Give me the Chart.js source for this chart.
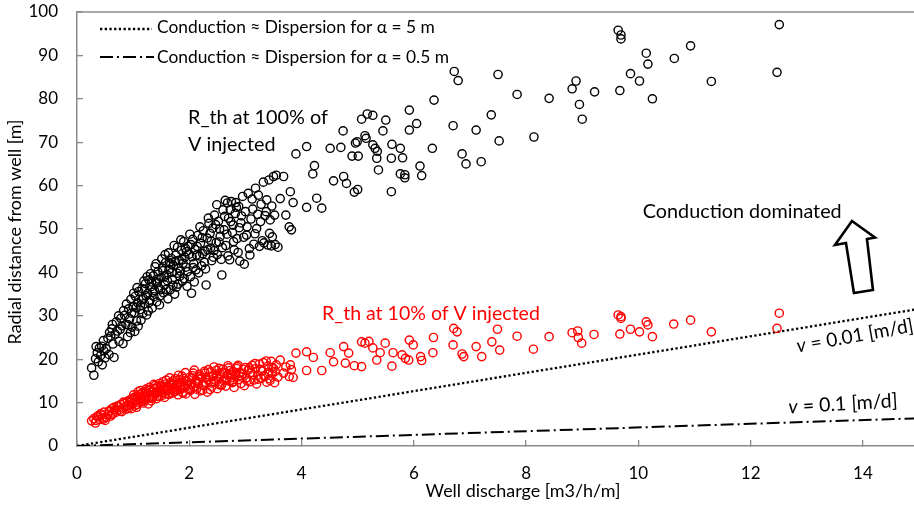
<!DOCTYPE html>
<html><head><meta charset="utf-8">
<script src="https://cdn.jsdelivr.net/npm/chart.js@4.4.1/dist/chart.umd.min.js"></script>
<style>html,body{margin:0;padding:0;background:#fff;}#wrap{width:914px;height:506px;}</style>
</head><body><div id="wrap"><canvas id="c" width="914" height="506"></canvas></div>
<script>
// ---- tick labels ----
const xTicks = [0, 2, 4, 6, 8, 10, 12, 14];
const yTicks = [0, 10, 20, 30, 40, 50, 60, 70, 80, 90, 100];

// ---- dense cluster: well discharge, R_th at 100 %, R_th at 10 % ----
const qDense = [0.26,0.30,0.33,0.36,0.38,0.40,0.42,0.45,0.48,0.50,0.55,0.58,0.60,0.62,0.64,0.66,0.70,0.72,0.75,0.78,0.80,0.82,0.85,0.87,0.90,0.92,0.94,0.96,0.98,1.00,1.02,1.04,1.06,1.08,1.10,1.12,1.14,1.16,1.18,1.20,1.22,1.24,1.26,1.28,1.30,1.32,1.34,1.36,1.38,1.40,1.42,1.44,1.46,1.48,1.50,1.52,1.54,1.56,1.58,1.60,1.62,1.64,1.66,1.68,1.70,1.72,1.74,1.76,1.78,1.80,1.82,1.84,1.86,1.88,1.90,1.92,1.94,1.96,1.98,2.00,2.02,2.04,2.06,2.08,2.10,2.12,2.15,2.18,2.20,2.22,2.25,2.28,2.30,2.32,2.35,2.38,2.40,2.42,2.45,2.48,2.50,2.52,2.55,2.58,2.60,2.62,2.65,2.68,2.70,2.72,2.75,2.78,2.80,2.82,2.85,2.88,2.90,2.92,2.95,2.98,3.00,3.02,3.05,3.08,3.10,3.12,3.15,3.18,3.20,3.22,3.25,3.28,3.30,3.32,3.35,3.38,3.40,3.42,3.44,3.46,3.48,3.50,3.52,3.55,3.58,3.62,3.68,3.72,3.78,3.80,3.82,3.85,3.90,
0.44,0.52,0.68,0.74,0.88,0.95,1.01,1.05,1.09,1.15,1.19,1.23,1.27,1.31,1.35,1.39,1.43,1.47,1.51,1.55,1.59,1.63,1.67,1.71,1.75,1.79,1.83,1.87,1.91,1.95,2.03,2.07,2.13,2.17,2.23,2.27,2.33,2.37,2.43,2.47,2.53,2.57,2.63,2.67,2.73,2.77,2.83,2.87,2.93,2.97,3.03,3.07,3.13,3.17,3.23,3.27,3.33,3.37,3.43,3.47,3.53,
0.34,0.47,0.57,0.63,0.77,0.83,0.91,0.97,1.03,1.07,1.13,1.17,1.21,1.25,1.29,1.33,1.37,1.41,1.45,1.49,1.53,1.57,1.61,1.65,1.69,1.73,1.77,1.81,1.85,1.89,1.93,1.97,2.01,2.05,2.09,2.14,2.19,2.24,2.29,2.34,2.39,2.44,2.49,2.54,2.59,2.64,2.69,2.74,2.79,2.84,2.89];
const r100Dense = [18.0,16.3,20.1,21.5,19.4,22.6,20.8,18.7,21.9,20.3,24.8,26.2,25.3,27.0,23.5,20.4,28.6,26.5,24.1,29.4,27.7,23.6,30.1,28.0,25.2,31.6,29.3,33.8,27.4,32.2,30.7,34.5,28.8,33.0,35.6,31.4,29.0,36.2,34.0,32.8,37.4,30.2,35.1,38.3,33.6,36.7,31.8,39.2,35.8,37.9,33.2,40.1,36.4,34.6,38.8,41.0,35.3,37.1,42.3,39.5,33.9,40.7,36.0,43.2,38.4,41.6,35.0,44.0,39.8,37.3,42.8,40.3,45.1,38.0,47.1,43.5,41.2,36.8,46.0,44.2,39.0,35.2,47.6,42.0,45.3,40.6,48.5,43.8,46.7,41.5,49.6,44.9,37.1,47.9,51.3,45.6,42.7,50.2,53.2,46.9,44.1,51.8,48.3,39.4,54.4,49.8,46.2,56.0,52.5,42.9,56.3,50.9,45.2,53.6,47.8,55.2,42.6,51.4,57.5,41.9,54.0,48.6,58.2,44.0,52.3,56.9,46.5,59.4,50.1,53.4,46.0,55.7,47.3,60.8,53.1,56.7,46.3,61.3,52.1,46.1,48.2,62.1,53.2,62.4,45.8,57.0,62.1,53.2,50.5,58.6,49.8,56.1,67.3,
23.0,22.4,25.8,30.0,32.7,26.1,35.2,31.9,27.6,33.7,38.0,34.6,31.1,39.7,35.4,41.3,37.6,32.5,43.1,39.0,36.1,44.5,41.9,37.0,42.6,45.8,39.1,43.0,38.6,44.8,46.4,41.1,44.0,39.9,48.0,42.3,45.2,49.0,43.5,51.0,47.0,43.0,52.9,48.8,54.5,49.2,56.1,44.6,53.0,48.1,50.5,45.5,54.6,48.9,57.8,51.7,46.8,54.0,49.0,55.3,46.4,
22.9,24.3,21.1,28.0,26.9,31.2,27.9,30.6,26.4,36.5,32.4,30.5,36.0,39.0,33.1,37.8,34.4,42.0,38.5,36.0,40.4,44.1,38.1,42.2,40.0,46.2,36.6,41.0,47.5,42.1,45.6,40.2,48.8,43.6,37.8,46.0,50.5,44.3,40.8,52.5,47.2,45.0,55.6,50.0,45.7,56.6,43.8,51.7,47.1,55.0,50.3];
const r10Dense = [5.8,6.3,5.3,6.8,7.0,6.1,7.4,6.5,7.8,5.9,7.2,8.1,6.9,8.6,7.6,8.9,7.8,9.2,8.3,9.6,7.9,8.8,9.9,9.1,10.3,8.7,10.6,9.5,10.9,9.8,11.2,10.4,8.9,11.5,10.1,11.9,10.7,12.2,9.9,11.4,12.6,10.8,12.0,11.1,13.0,10.4,12.4,11.7,13.3,12.1,10.9,13.6,11.5,12.8,14.0,12.3,13.4,11.2,14.3,12.7,13.8,11.9,14.6,13.1,12.2,15.0,13.5,12.6,14.2,11.8,15.3,13.0,14.7,12.4,15.6,13.7,12.0,14.9,13.2,15.8,12.8,14.1,16.2,13.5,11.9,15.1,14.4,16.5,12.7,15.7,13.9,16.8,14.6,12.4,15.9,17.1,13.6,16.0,14.8,17.4,13.2,15.4,16.7,14.2,17.7,15.0,13.8,16.4,18.0,14.9,15.8,17.2,13.5,16.1,18.3,15.3,17.0,14.4,16.6,13.9,18.1,15.7,17.5,14.8,16.9,18.6,15.2,17.8,14.3,16.3,18.9,15.6,17.3,19.2,16.0,14.7,18.4,17.0,15.1,19.5,16.6,17.9,14.6,18.7,15.9,19.8,16.8,18.2,16.0,18.7,17.6,15.8,21.4,
7.1,6.6,8.4,9.0,8.5,10.0,11.8,9.4,12.5,10.2,11.0,13.1,9.7,12.9,11.3,13.9,12.5,14.4,11.6,13.0,15.2,12.0,14.0,13.3,15.5,12.9,14.5,16.1,13.4,15.0,14.2,16.8,13.1,15.4,14.1,17.2,15.3,13.0,16.3,15.1,17.9,14.0,16.9,15.2,17.4,14.6,16.6,18.6,15.9,17.7,15.0,18.0,16.4,19.0,15.4,17.6,16.2,19.6,15.5,18.1,17.2,
5.9,6.2,8.0,7.3,8.0,10.1,9.3,8.6,10.8,9.6,12.8,11.6,10.5,12.1,13.5,11.0,14.2,12.4,11.4,13.7,14.8,12.0,13.1,15.7,14.4,12.5,13.9,16.3,14.0,12.2,16.9,14.3,13.0,15.5,17.5,14.7,16.0,12.9,15.8,17.6,14.5,18.2,16.1,14.1,17.0,15.6,18.5,16.5,14.9,17.9,16.2];

// ---- sparse wells, R_th at 100 % of V injected ----
const q100Sparse = [4.09,4.23,4.20,4.09,4.27,4.36,4.51,4.57,4.70,4.74,4.75,4.80,4.90,4.96,4.99,5.01,4.94,5.00,5.07,5.13,5.15,5.17,5.27,5.27,5.31,5.34,5.35,5.37,5.45,5.50,5.60,5.60,5.61,5.76,5.76,5.80,5.84,5.84,5.92,5.92,6.05,6.11,6.14,6.33,6.36,6.70,6.72,6.79,6.86,6.93,7.11,7.20,7.38,7.50,7.52,7.84,8.14,8.41,8.82,8.89,8.95,9.00,9.22,9.64,9.67,9.69,9.69,9.86,10.02,10.14,10.17,10.25,10.64,10.93,11.30,12.47,12.51];
const r100Sparse = [69.0,64.6,62.7,55.0,57.1,54.8,68.6,61.1,68.8,72.6,62.1,60.5,66.8,69.8,70.1,66.8,58.5,59.1,75.3,71.5,70.9,76.5,76.2,69.4,68.6,66.3,67.9,63.6,72.6,75.1,66.3,58.6,69.5,68.6,62.7,66.4,62.5,61.8,77.4,72.8,74.3,64.5,62.3,68.6,79.7,73.8,86.3,84.2,67.3,65.0,72.8,65.5,76.3,85.6,70.3,81.0,71.2,80.1,82.3,84.1,78.7,75.3,81.6,95.8,81.9,94.7,93.8,85.8,84.1,90.5,88.0,80.0,89.3,92.2,84.0,86.1,97.1];

// ---- sparse wells, R_th at 10 % of V injected ----
const q10Sparse = [4.09,4.09,4.21,4.36,4.51,4.57,4.75,4.78,4.84,4.94,5.07,5.07,5.13,5.20,5.27,5.34,5.40,5.49,5.61,5.63,5.79,5.85,5.91,5.92,5.99,6.12,6.14,6.34,6.35,6.70,6.71,6.77,6.86,6.89,7.11,7.21,7.39,7.49,7.53,7.84,8.13,8.41,8.82,8.92,8.93,8.99,9.21,9.64,9.67,9.69,9.69,9.86,10.02,10.14,10.17,10.25,10.63,10.93,11.30,12.47,12.51];
const r10Sparse = [21.7,17.4,20.4,17.4,21.5,19.4,22.9,19.1,21.4,18.5,18.3,24.0,23.7,24.1,22.6,19.8,21.5,23.7,18.4,21.5,21.0,20.2,19.8,24.4,23.3,20.6,19.7,21.5,25.0,23.3,27.1,26.3,21.2,20.6,22.9,20.6,24.0,26.9,22.1,25.3,22.3,25.2,26.1,26.5,25.0,23.7,25.7,30.2,25.8,29.8,29.4,26.9,26.3,28.6,27.9,25.2,28.1,29.0,26.3,27.1,30.6];

// ---- threshold lines: conduction ≈ dispersion ----
const lineQ = [0, 15];
const alpha5R = [0, 31.6];
const alpha05R = [0, 6.4];

// ---- labels ----
const legendLabels = ['Conduction \u2248 Dispersion for \u03b1 = 5 m', 'Conduction \u2248 Dispersion for \u03b1 = 0.5 m'];
const xTitle = 'Well discharge [m3/h/m]';
const yTitle = 'Radial distance from well [m]';

const FONT = 'Lato, "Open Sans", sans-serif';
const pts = (xs, ys) => xs.map((x, i) => ({x: x, y: ys[i]}));

function fitSize(ctx, text, target, style) {
  ctx.font = (style ? style + ' ' : '') + '100px ' + FONT;
  return 100 * target / ctx.measureText(text).width;
}
function textAt(ctx, text, x, y, target, color, align, rot) {
  const s = fitSize(ctx, text, target);
  ctx.save();
  ctx.translate(x, y);
  if (rot) ctx.rotate(rot);
  ctx.font = s + 'px ' + FONT;
  ctx.fillStyle = color || '#000';
  ctx.textAlign = align || 'left';
  ctx.textBaseline = 'middle';
  ctx.fillText(text, 0, 0);
  ctx.restore();
}
function vLabel(ctx, rest, cx, cy, target, angle) {
  const s = fitSize(ctx, 'v' + rest, target);
  ctx.save();
  ctx.translate(cx, cy); ctx.rotate(angle);
  ctx.font = 'italic ' + s + 'px ' + FONT; const wv = ctx.measureText('v').width;
  ctx.font = s + 'px ' + FONT; const wr = ctx.measureText(rest).width;
  const x0 = -(wv + wr) / 2;
  ctx.fillStyle = '#000'; ctx.textBaseline = 'middle'; ctx.textAlign = 'left';
  ctx.font = 'italic ' + s + 'px ' + FONT; ctx.fillText('v', x0, 0);
  ctx.font = s + 'px ' + FONT; ctx.fillText(rest, x0 + wv, 0);
  ctx.restore();
}

const decor = {
  id: 'decor',
  afterDraw(chart) {
    const ctx = chart.ctx, a = chart.chartArea, X = chart.scales.x, Y = chart.scales.y;
    const px = v => X.getPixelForValue(v), py = v => Y.getPixelForValue(v);
    ctx.save();
    // top frame line
    ctx.strokeStyle = '#8c8c8c'; ctx.lineWidth = 1.5;
    ctx.beginPath(); ctx.moveTo(a.left, a.top); ctx.lineTo(a.right, a.top); ctx.stroke();
    // legend
    ctx.strokeStyle = '#000';
    ctx.lineWidth = 2.3; ctx.setLineDash([2.3, 2.4]);
    ctx.beginPath(); ctx.moveTo(a.left + 23, a.top + 17); ctx.lineTo(a.left + 75, a.top + 17); ctx.stroke();
    ctx.lineWidth = 2; ctx.setLineDash([13, 4, 2, 4]);
    ctx.beginPath(); ctx.moveTo(a.left + 23, a.top + 45); ctx.lineTo(a.left + 77, a.top + 45); ctx.stroke();
    ctx.setLineDash([]);
    const ls = fitSize(ctx, legendLabels[0], 278);
    ctx.font = ls + 'px ' + FONT; ctx.fillStyle = '#000'; ctx.textBaseline = 'middle'; ctx.textAlign = 'left';
    ctx.fillText(legendLabels[0], a.left + 80, a.top + 15);
    ctx.fillText(legendLabels[1], a.left + 80, a.top + 45);
    // series labels
    textAt(ctx, 'R_th at 100% of', px(1.977), py(75.6), 140);
    const s100 = fitSize(ctx, 'R_th at 100% of', 140);
    ctx.font = s100 + 'px ' + FONT; ctx.fillText('V injected', px(1.977), py(69.4));
    textAt(ctx, 'R_th at 10% of V injected', px(4.364), py(30.6), 218, '#ff0000');
    textAt(ctx, 'Conduction dominated', px(10.08), py(54.1), 199);
    // hollow arrow
    const arrow = [[13.805,51.84],[14.214,48.04],[14.072,47.70],[14.179,35.94],[13.840,35.25],[13.698,46.77],[13.502,46.31]];
    ctx.beginPath();
    arrow.forEach((p, i) => i ? ctx.lineTo(px(p[0]), py(p[1])) : ctx.moveTo(px(p[0]), py(p[1])));
    ctx.closePath(); ctx.fillStyle = '#fff'; ctx.fill();
    ctx.lineWidth = 2.6; ctx.lineJoin = 'miter'; ctx.strokeStyle = '#000'; ctx.stroke();
    // velocity labels
    const ang1 = Math.atan2(py(alpha5R[1]) - py(alpha5R[0]), px(lineQ[1]) - px(lineQ[0]));
    vLabel(ctx, ' = 0.01 [m/d]', px(13.858), py(25.35), 119, ang1 - 0.015);
    vLabel(ctx, ' = 0.1 [m/d]', px(13.645), py(9.68), 110, -0.06);
    // axis titles
    textAt(ctx, xTitle, 523, 491, 195, '#000', 'center');
    textAt(ctx, yTitle, 15, 232, 225, '#000', 'center', -Math.PI / 2);
    ctx.restore();
  }
};

const axisGrey = '#898989';
const noPad = s => { s.paddingTop = 0; s.paddingBottom = 0; s.paddingLeft = 0; s.paddingRight = 0; };
new Chart(document.getElementById('c'), {
  type: 'scatter',
  data: {
    datasets: [
      {label: 'R_th 100%', data: pts(qDense.concat(q100Sparse), r100Dense.concat(r100Sparse)),
       pointStyle: 'circle', pointRadius: 4.1, pointBorderWidth: 1.4, borderColor: '#000', backgroundColor: 'rgba(0,0,0,0)', showLine: false},
      {label: 'R_th 10%', data: pts(qDense.concat(q10Sparse), r10Dense.concat(r10Sparse)),
       pointStyle: 'circle', pointRadius: 4.1, pointBorderWidth: 1.4, borderColor: '#ff0000', backgroundColor: 'rgba(0,0,0,0)', showLine: false},
      {label: legendLabels[0], data: pts(lineQ, alpha5R), showLine: true, pointRadius: 0,
       borderColor: '#000', borderWidth: 2.3, borderDash: [2.3, 2.4], borderCapStyle: 'butt', fill: false},
      {label: legendLabels[1], data: pts(lineQ, alpha05R), showLine: true, pointRadius: 0,
       borderColor: '#000', borderWidth: 2, borderDash: [13, 4, 2, 4], borderCapStyle: 'butt', fill: false}
    ]
  },
  options: {
    responsive: false, animation: false, devicePixelRatio: 1,
    layout: {autoPadding: false, padding: {top: 12, right: 0, left: 0, bottom: 0}},
    plugins: {legend: {display: false}, tooltip: {enabled: false}},
    scales: {
      x: {
        type: 'linear', position: 'bottom', min: 0, max: 14.91,
        afterBuildTicks: s => { s.ticks = xTicks.map(v => ({value: v})); },
        afterFit: s => { s.height = 60; noPad(s); },
        grid: {drawOnChartArea: false, drawTicks: true, tickLength: -6, color: axisGrey, lineWidth: 1.3},
        border: {display: true, color: axisGrey, width: 1.5},
        ticks: {font: {family: FONT, size: 17}, color: '#000', padding: 23, maxRotation: 0}
      },
      y: {
        type: 'linear', position: 'left', min: 0, max: 100,
        afterBuildTicks: s => { s.ticks = yTicks.map(v => ({value: v})); },
        afterFit: s => { s.width = 77; noPad(s); },
        grid: {drawOnChartArea: false, drawTicks: true, tickLength: -6, color: axisGrey, lineWidth: 1.3},
        border: {display: true, color: axisGrey, width: 1.5},
        ticks: {font: {family: FONT, size: 17}, color: '#000', padding: 25}
      }
    }
  },
  plugins: [decor]
});
</script></body></html>
